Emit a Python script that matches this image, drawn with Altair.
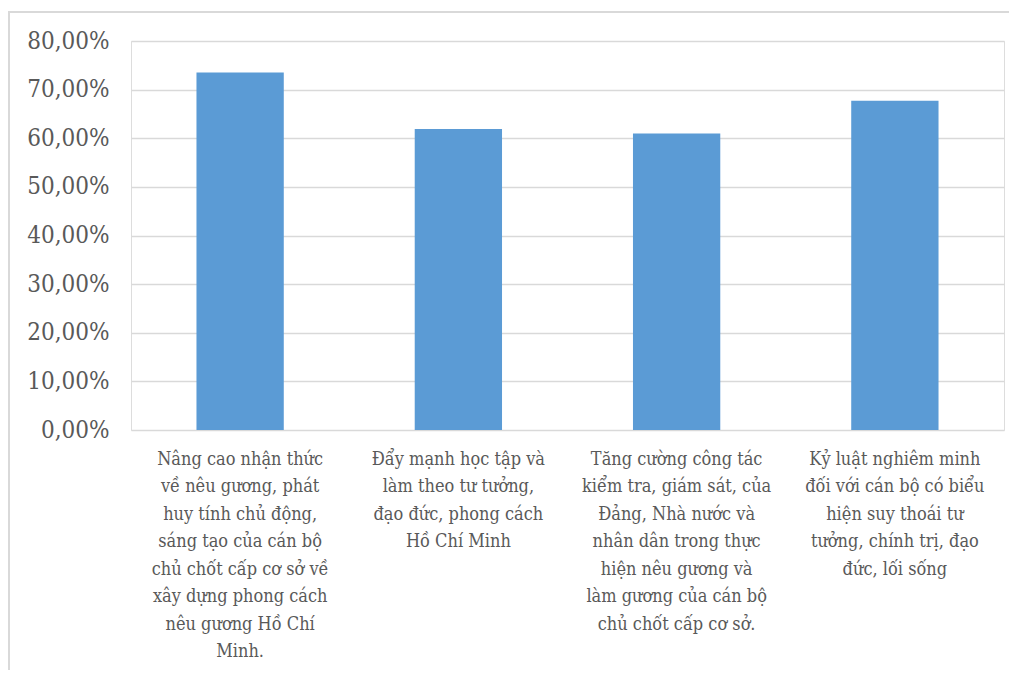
import altair as alt
import pandas as pd

# Category labels (as lines, the way they wrap in the picture)
category_lines = [
    ["Nâng cao nhận thức", "về nêu gương, phát", "huy tính chủ động,",
     "sáng tạo của cán bộ", "chủ chốt cấp cơ sở về", "xây dựng phong cách",
     "nêu gương Hồ Chí", "Minh."],
    ["Đẩy mạnh học tập và", "làm theo tư tưởng,", "đạo đức, phong cách", "Hồ Chí Minh"],
    ["Tăng cường công tác", "kiểm tra, giám sát, của", "Đảng, Nhà nước và",
     "nhân dân trong thực", "hiện nêu gương và", "làm gương của cán bộ",
     "chủ chốt cấp cơ sở."],
    ["Kỷ luật nghiêm minh", "đối với cán bộ có biểu", "hiện suy thoái tư",
     "tưởng, chính trị, đạo", "đức, lối sống"],
]
values = [0.735, 0.619, 0.610, 0.677]
y_ticks = [0, 0.1, 0.2, 0.3, 0.4, 0.5, 0.6, 0.7, 0.8]

categories = ["\n".join(lines) for lines in category_lines]
df = pd.DataFrame({"category": categories, "value": values})

W, H = 873, 389
TEXT = "#595959"
GRID = "#d9d9d9"
FONT = "DejaVu Serif Condensed"

bars = alt.Chart(df).mark_bar(color="#5B9BD5").encode(
    x=alt.X(
        "category:N",
        sort=categories,
        scale=alt.Scale(paddingInner=0.6, paddingOuter=0.3),
        axis=alt.Axis(
            title=None,
            labelAngle=0,
            labelExpr="split(datum.label, '\\n')",
            labelFont=FONT,
            labelFontSize=18,
            labelColor=TEXT,
            labelLineHeight=27.5,
            labelLimit=400,
            labelPadding=20,
            labelBaseline="top",
            ticks=False,
            domain=False,
            grid=False,
        ),
    ),
    y=alt.Y(
        "value:Q",
        scale=alt.Scale(domain=[0, 0.8], nice=False),
        axis=alt.Axis(
            title=None,
            values=y_ticks,
            labelExpr="replace(format(datum.value, '.2%'), '.', ',')",
            labelFont=FONT,
            labelFontSize=24,
            labelColor=TEXT,
            labelPadding=22,
            ticks=False,
            domain=False,
            grid=True,
            gridColor=GRID,
            gridWidth=1.5,
        ),
    ),
)

frame = alt.Chart(df).mark_rect(fill=None, stroke=GRID, strokeWidth=1.5).encode(
    x=alt.value(-122), x2=alt.value(W + 40),
    y=alt.value(-29), y2=alt.value(H + 300),
)

chart = alt.layer(frame, bars).properties(
    width=W, height=H,
    autosize=alt.AutoSizeParams(type="none"),
    padding={"left": 123, "top": 33, "right": 5, "bottom": 240},
).configure_view(stroke=None).configure(background="white")

chart.save("out.html", embed_options={"renderer": "svg", "actions": False})
